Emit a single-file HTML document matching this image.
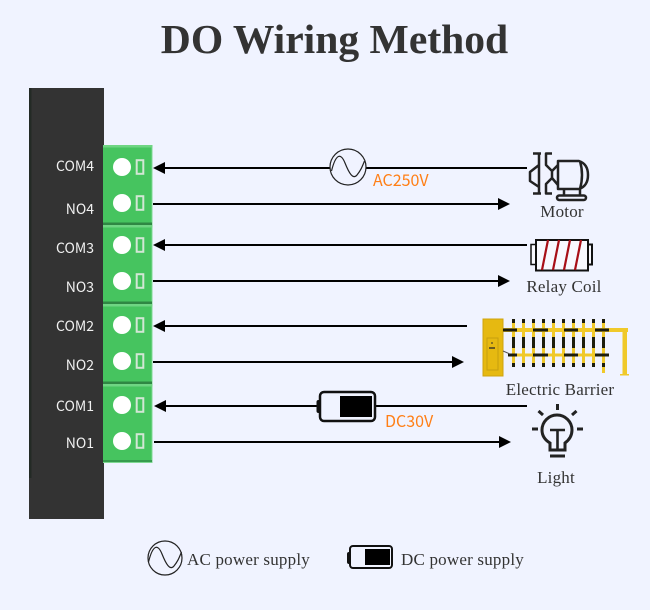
<!DOCTYPE html>
<html><head><meta charset="utf-8"><style>
html,body{margin:0;padding:0;background:#f0f3ff}
svg{display:block}
.t{font-family:"Liberation Serif",serif;fill:#333}
.p{font-family:"Noto Sans CJK SC","Liberation Sans",sans-serif;font-size:14px;fill:#f1f1f1;text-anchor:end}
.o{font-family:"Noto Sans CJK SC","Liberation Sans",sans-serif;font-size:16px;fill:#ff7f16}
.l{font-family:"Liberation Serif",serif;font-size:17px;fill:#333;letter-spacing:.2px}
</style></head><body>
<svg width="650" height="610" viewBox="0 0 650 610" xmlns="http://www.w3.org/2000/svg">
<defs>
<g id="sine"><path d="M-16.500 4C-12 -14 -7 -14 -3 -4S5 13 9 8S14 0 16.500 -6" fill="none" stroke="#222" stroke-width="1.200"/></g>
<rect id="pk" x="0" y="0" width="3" height="48" fill="#f0c92a"/>
<g id="pin">
<circle cx="0" cy="0" r="9" fill="#fff"/>
<rect x="14.700" y="-6.800" width="6.600" height="13.600" fill="none" stroke="#d3e6d5" stroke-width="2"/>
</g>
<g id="pkb" fill="#1c1c0c">
<rect x="0" y="0" width="3" height="4"/>
<rect x="0" y="18" width="3" height="11"/>
<rect x="0" y="44" width="3" height="4"/>
</g>
</defs>
<rect width="650" height="610" fill="#f0f3ff"/>
<text class="t" x="334.500" y="53" font-size="41.600" font-weight="bold" text-anchor="middle">DO Wiring Method</text>

<rect x="29" y="88" width="75" height="431" fill="#333"/>
<rect x="29" y="88" width="2.500" height="390" fill="#232a25"/>

<rect x="103" y="145" width="49" height="318" fill="#46c45f"/>
<rect x="151.500" y="145" width="1" height="318" fill="#7fd893"/>
<g fill="#6fd583">
<rect x="103" y="145" width="49.500" height="2.500"/>
<rect x="103" y="225" width="49.500" height="2.500"/>
<rect x="103" y="304" width="49.500" height="2.500"/>
<rect x="103" y="384" width="49.500" height="2.500"/>
</g>
<g fill="#2f8743">
<rect x="103" y="222.500" width="49" height="2.500"/>
<rect x="103" y="301.500" width="49" height="2.500"/>
<rect x="103" y="381.500" width="49" height="2.500"/>
</g>
<rect x="103" y="460" width="49" height="2" fill="#369c4e"/>
<rect x="103" y="462" width="49.500" height="1" fill="#7fd893"/>

<use href="#pin" x="122" y="167"/>
<use href="#pin" x="122" y="203"/>
<use href="#pin" x="122" y="245"/>
<use href="#pin" x="122" y="281"/>
<use href="#pin" x="122" y="325"/>
<use href="#pin" x="122" y="361"/>
<use href="#pin" x="122" y="405"/>
<use href="#pin" x="122" y="441"/>

<text class="p" x="94" y="171">COM4</text>
<text class="p" x="94" y="214">NO4</text>
<text class="p" x="94" y="253">COM3</text>
<text class="p" x="94" y="292">NO3</text>
<text class="p" x="94" y="331">COM2</text>
<text class="p" x="94" y="370">NO2</text>
<text class="p" x="94" y="411">COM1</text>
<text class="p" x="94" y="448">NO1</text>

<g stroke="#000" stroke-width="2" fill="none">
<path d="M165 168H527"/>
<path d="M153 204H498"/>
<path d="M165 245H527"/>
<path d="M153 281H498"/>
<path d="M165 326H467"/>
<path d="M153 362H452"/>
<path d="M165 406H527"/>
<path d="M154 442H499"/>
</g>
<g fill="#000">
<path d="M153 168L165 162V174z"/>
<path d="M510 204L498 198V210z"/>
<path d="M153 245L165 239V251z"/>
<path d="M510 281L498 275V287z"/>
<path d="M153 326L165 320V332z"/>
<path d="M464 362L452 356V368z"/>
<path d="M154 406L166 400V412z"/>
<path d="M511 442L499 436V448z"/>
</g>

<circle cx="348" cy="167" r="18" fill="#f0f3ff" stroke="#222" stroke-width="1.200"/>
<use href="#sine" x="348" y="167"/>
<text class="o" x="373" y="186">AC250V</text>

<rect x="316.500" y="400" width="5" height="13" rx="2" fill="#111"/>
<rect x="320" y="392" width="55" height="29" rx="4" fill="#f0f3ff" stroke="#111" stroke-width="2.500"/>
<rect x="340" y="396" width="32" height="21" fill="#000"/>
<text class="o" x="385" y="427">DC30V</text>

<!-- Motor -->
<g fill="none" stroke="#222" stroke-width="2.500" stroke-linejoin="round">
<path d="M533 153.500H541M533 193.500H541"/>
<path d="M539 153.500V165L530 172V181L539 187V193.500M539 165V187"/>
<path d="M552 153.500H546V165L552 171V178L546 184V193.500H552"/>
<path d="M552 171L558 165M552 178L558 185"/>
<path d="M558 161H579Q588 164 588 175Q588 186 579 189H558Z"/>
<path d="M580 161Q584 175 580 189"/>
<path d="M564 189V195M580 189V195"/>
<rect x="557" y="195.500" width="29" height="4.500" rx="2.200"/>
</g>
<text class="l" x="562" y="217" text-anchor="middle">Motor</text>

<!-- Relay -->
<rect x="531" y="244.500" width="5" height="20" fill="#f8f9ff" stroke="#111" stroke-width="1.500"/>
<rect x="587" y="244.500" width="5" height="20" fill="#f8f9ff" stroke="#111" stroke-width="2"/>
<rect x="536" y="240" width="52" height="30.500" fill="#f8f9ff" stroke="#111" stroke-width="2"/>
<path d="M548 240L542 270M559 240L553 270M570 240L564 270M581 240L575 270" stroke="#a80f17" stroke-width="2.200"/>
<text class="l" x="564" y="292" text-anchor="middle">Relay Coil</text>

<!-- Barrier -->
<rect x="483" y="319" width="20" height="57" fill="#e6b911" stroke="#cfa40e" stroke-width="1"/>
<rect x="487" y="338" width="11" height="32" fill="#e6b911" stroke="#c79e10" stroke-width="1"/>
<rect x="491" y="342" width="2" height="2" fill="#8a7320"/>
<rect x="489" y="347" width="6" height="2" fill="#6b5a20"/>
<rect x="503" y="328" width="125" height="4" fill="#f0c92a"/>
<rect x="508" y="353.500" width="101" height="3" fill="#f0c92a"/>
<rect x="622.500" y="331" width="4.500" height="44" fill="#f0c92a"/>
<rect x="620" y="374" width="9" height="1.500" fill="#f0c92a"/>
<use href="#pk" x="512" y="319"/><use href="#pk" x="522" y="319"/><use href="#pk" x="532" y="319"/><use href="#pk" x="542" y="319"/><use href="#pk" x="552" y="319"/><use href="#pk" x="562" y="319"/><use href="#pk" x="572" y="319"/><use href="#pk" x="582" y="319"/><use href="#pk" x="592" y="319"/><use href="#pk" x="602" y="319"/>
<rect x="602" y="367" width="3" height="6" fill="#f0c92a"/>
<use href="#pkb" x="512" y="319"/><use href="#pkb" x="522" y="319"/><use href="#pkb" x="532" y="319"/><use href="#pkb" x="542" y="319"/><use href="#pkb" x="552" y="319"/><use href="#pkb" x="562" y="319"/><use href="#pkb" x="572" y="319"/><use href="#pkb" x="582" y="319"/><use href="#pkb" x="592" y="319"/><use href="#pkb" x="602" y="319"/>
<g fill="#1c1c0c">
<rect x="503" y="328.500" width="14" height="3"/><rect x="533" y="328.500" width="15" height="3"/><rect x="564" y="328.500" width="14" height="3"/><rect x="595" y="328.500" width="14" height="3"/>
<rect x="508" y="353.500" width="9" height="3"/><rect x="533" y="353.500" width="15" height="3"/><rect x="564" y="353.500" width="14" height="3"/><rect x="595" y="353.500" width="14" height="3"/>
</g>
<path d="M503 351L510 354" stroke="#555" stroke-width="1"/>
<text class="l" x="560" y="395" text-anchor="middle">Electric Barrier</text>

<!-- Light -->
<g fill="none" stroke="#222" stroke-width="3">
<path d="M550 450V443C545 440 542 436 542 430A15 15 0 0 1 572 430C572 436 569 440 565 443V450Z"/>
<path d="M550 430H565M557.500 430V450" stroke-width="2.600"/>
<path d="M550 456H565"/>
<path d="M557.500 404V410"/>
<path d="M538.500 411L543 415M576.500 411L572 415"/>
<path d="M532 429H538M577 429H583"/>
</g>
<text class="l" x="556" y="483" text-anchor="middle">Light</text>

<!-- Legend -->
<circle cx="165" cy="558" r="17" fill="none" stroke="#222" stroke-width="1.200"/>
<use href="#sine" x="165" y="558"/>
<text class="l" x="187" y="565">AC power supply</text>
<rect x="347" y="552" width="4" height="12" rx="2" fill="#111"/>
<rect x="350" y="546" width="42" height="22" rx="3" fill="#f0f3ff" stroke="#111" stroke-width="2"/>
<rect x="365" y="549" width="25" height="16" fill="#000"/>
<text class="l" x="401" y="565">DC power supply</text>
</svg>
</body></html>
